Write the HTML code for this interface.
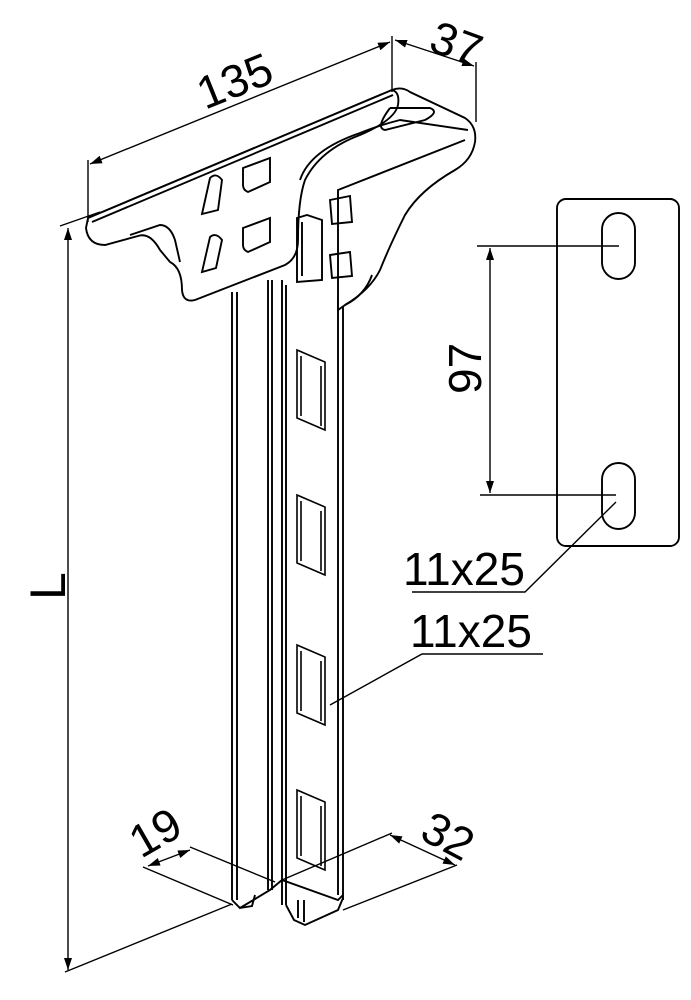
<!DOCTYPE html>
<html><head><meta charset="utf-8"><style>
html,body{margin:0;padding:0;background:#fff}
svg{display:block}
text{font-family:"Liberation Sans",sans-serif;fill:#000}
</style></head><body>
<svg width="691" height="1000" viewBox="0 0 691 1000" xmlns="http://www.w3.org/2000/svg">
<defs>
<marker id="a" viewBox="0 0 12 8" refX="12" refY="4" markerWidth="12" markerHeight="8" orient="auto-start-reverse" markerUnits="userSpaceOnUse"><path d="M0,0 L12,4 L0,8 z" fill="#000"/></marker>
</defs>
<g fill="none" stroke="#000" stroke-width="1.9">
<!-- column -->
<path d="M232,292 L232,900 M237,292 L237,900 M268,280 L268,890 M272,280 L272,890 M282,280 L282,905 M286,285 L286,905 M338,300 L338,895 M343,300 L343,900"/>
<path d="M232,900 L240,908 L270,890 L282,880 L338,900 L343,895 M240,908 L252,906 L255,895 M286,905 L294,920 L305,925 L338,910 L343,898 M298,900 L298,918 M304,900 L304,922"/>
<g stroke-width="1.6">
<path d="M297,350 L297,418 L325,430 L325,362 Z M301,356 L301,416 M321,366 L321,426"/>
<path d="M297,495 L297,563 L325,575 L325,507 Z M301,501 L301,561 M321,511 L321,571"/>
<path d="M297,645 L297,713 L325,725 L325,657 Z M301,651 L301,711 M321,661 L321,721"/>
<path d="M297,790 L297,858 L325,870 L325,802 Z M301,796 L301,856 M321,806 L321,866"/>
</g>
<!-- top plate -->
<path fill="#fff" d="M88,218 L392,90 Q402,86 410,92 L465,118 Q477,126 475,142 Q472,160 455,170 Q420,190 405,215 Q390,245 380,270 Q370,290 345,305 L338,310 L338,190 L465,140"/>
<path fill="#fff" d="M88,218 L392,90 Q400,92 398,105 Q395,120 360,135 Q320,150 305,180 Q298,200 298,240 Q298,258 285,265 L195,300 Q183,303 182,290 Q182,268 170,262 L160,250 Q150,232 138,236 L105,245 Q88,245 86,228 Z"/>
<path d="M92,222 L393,95 M130,235 L160,225 Q170,225 175,240 L180,262 M300,180 Q310,150 360,133 Q380,125 400,120 L468,130 M390,108 L430,108 Q440,112 425,120 L385,130 Q375,128 390,108 M345,305 Q365,295 372,275"/>
<path d="M210,178 Q216,172 222,180 L218,210 L202,214 Z M243,168 L270,158 L270,182 L248,192 Q243,190 243,185 Z M210,237 Q216,232 222,240 L216,268 L202,272 Z M243,228 L270,218 L270,242 L248,252 Q243,250 243,245 Z"/>
<path d="M297,218 L307,215 L322,220 L322,280 L297,282 Z M302,222 L302,276 M330,200 L350,196 L352,222 L332,224 Z M330,255 L350,252 L352,276 L332,278 Z"/>
<!-- dimensions -->
<g stroke-width="1.4">
<path d="M88,222 L88,160 M392,92 L392,36 M476,122 L476,62"/>
<line x1="90" y1="164" x2="390" y2="42" marker-start="url(#a)" marker-end="url(#a)"/>
<line x1="395" y1="40" x2="474" y2="66" marker-start="url(#a)" marker-end="url(#a)"/>
<path d="M60,226 L100,212 M65,972 L232,904"/>
<line x1="68" y1="228" x2="68" y2="970" marker-start="url(#a)" marker-end="url(#a)"/>
<path d="M143,867 L233,905 M190,847 L275,882 M282,880 L392,833 M343,910 L457,865"/>
<line x1="148" y1="866" x2="190" y2="850" marker-start="url(#a)" marker-end="url(#a)"/>
<line x1="390" y1="835" x2="455" y2="865" marker-start="url(#a)" marker-end="url(#a)"/>
<rect x="557" y="199" width="122" height="347" rx="9" stroke-width="1.9"/>
<rect x="602" y="213" width="33" height="66" rx="16.5" stroke-width="1.9"/>
<rect x="602" y="463" width="33" height="66" rx="16.5" stroke-width="1.9"/>
<path d="M477,246 L619,246 M480,495 L616,495"/>
<line x1="490" y1="248" x2="490" y2="493" marker-start="url(#a)" marker-end="url(#a)"/>
<path d="M412,592 L525,592 L616,502 M543,654 L422,654 L330,705"/>
</g>
</g>
<text x="0" y="0" font-size="46" transform="translate(205,110) rotate(-22)">135</text>
<text x="0" y="0" font-size="46" transform="translate(427,50) rotate(20)">37</text>
<text x="0" y="0" font-size="50" transform="translate(65,600) rotate(-90)">L</text>
<text x="0" y="0" font-size="46" transform="translate(481,394) rotate(-90)">97</text>
<text x="403" y="585" font-size="46">11x25</text>
<text x="410" y="647" font-size="46">11x25</text>
<text x="0" y="0" font-size="46" transform="translate(141,859) rotate(-30)">19</text>
<text x="0" y="0" font-size="46" transform="translate(418,838) rotate(28)">32</text>
</svg>
</body></html>
